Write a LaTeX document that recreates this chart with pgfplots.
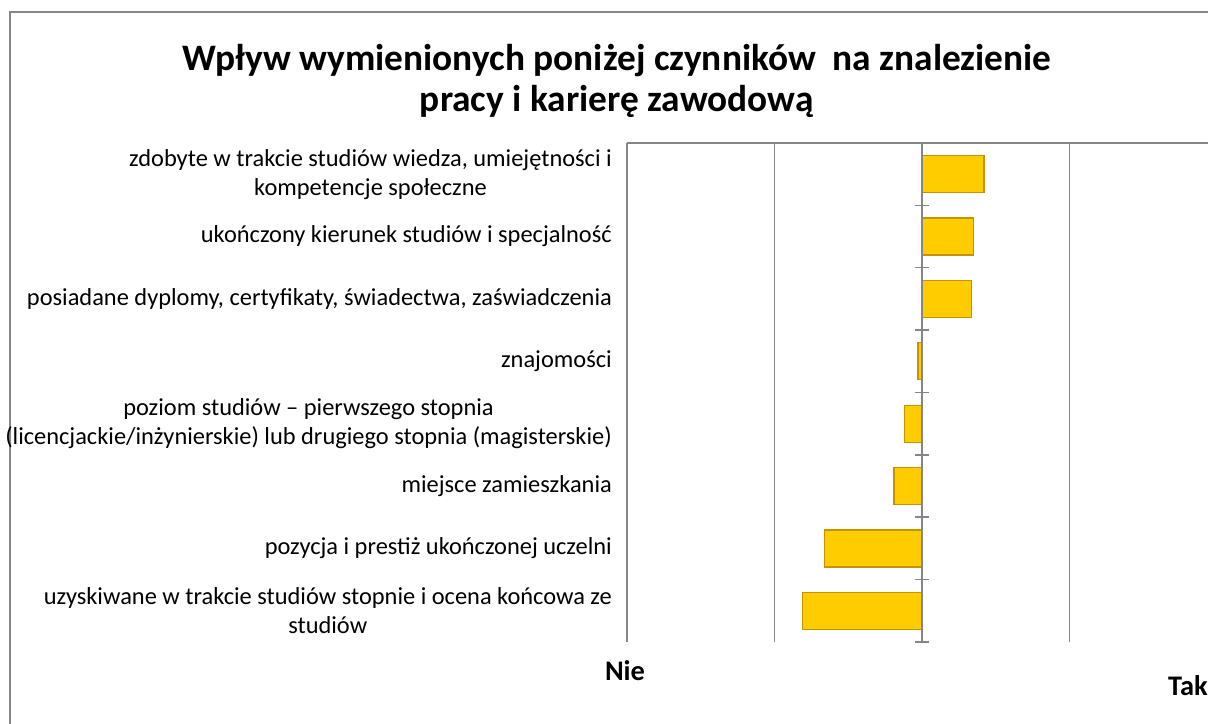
\documentclass[border=0pt]{standalone}
\usepackage{pgfplots}
\pgfplotsset{compat=1.18}
\usepackage{fontspec}
\setmainfont{Carlito}
\definecolor{barfill}{RGB}{255,204,0}
\definecolor{baredge}{RGB}{196,148,0}
\definecolor{gridc}{RGB}{134,134,134}
\begin{document}
\begin{tikzpicture}[x=1bp,y=1bp]
\useasboundingbox (0,0) rectangle (1208,724);
\fill[white] (0,0) rectangle (1208,724);
\draw[gridc, line width=1.5bp] (10,-5) -- (10,712) -- (1215,712);
\begin{axis}[
  at={(627bp,82bp)}, anchor=south west,
  width=581bp, height=499bp, scale only axis,
  xmin=-2, xmax=1.939, ymin=-0.5, ymax=7.5, y dir=reverse,
  xbar, bar width=37bp, bar shift=0pt,
  axis line style={draw=none},
  xtick={-2,-1,1}, xticklabels={}, xmajorgrids,
  grid style={gridc, line width=1.3bp},
  major tick length=0pt,
  ytick={0,...,7},
  yticklabels={{zdobyte w trakcie studiów wiedza, umiejętności i\\kompetencje społeczne},
    {ukończony kierunek studiów i specjalność},
    {posiadane dyplomy, certyfikaty, świadectwa, zaświadczenia},
    {znajomości},
    {poziom studiów – pierwszego stopnia\\(licencjackie/inżynierskie) lub drugiego stopnia (magisterskie)},
    {miejsce zamieszkania},
    {pozycja i prestiż ukończonej uczelni},
    {uzyskiwane w trakcie studiów stopnie i ocena końcowa ze\\studiów}},
  yticklabel style={align=center, font=\fontsize{24.5}{29}\selectfont, anchor=east, inner sep=0pt, xshift=-15bp},
  clip=false,
]
\addplot[fill=barfill, draw=baredge, line width=1.2bp] coordinates {(0.42,0) (0.35,1) (0.335,2) (-0.027,3) (-0.12,4) (-0.19,5) (-0.66,6) (-0.81,7)};
\draw[gridc, line width=1.3bp] (axis cs:-2,-0.5) -- (axis cs:1.939,-0.5);
\draw[gridc, line width=1.5bp] (axis cs:0,-0.5) -- (axis cs:0,7.5);
\draw[gridc, line width=1.5bp] (axis cs:-0.05,-0.5) -- (axis cs:0.05,-0.5);
\draw[gridc, line width=1.5bp] (axis cs:-0.05,0.5) -- (axis cs:0.05,0.5);
\draw[gridc, line width=1.5bp] (axis cs:-0.05,1.5) -- (axis cs:0.05,1.5);
\draw[gridc, line width=1.5bp] (axis cs:-0.05,2.5) -- (axis cs:0.05,2.5);
\draw[gridc, line width=1.5bp] (axis cs:-0.05,3.5) -- (axis cs:0.05,3.5);
\draw[gridc, line width=1.5bp] (axis cs:-0.05,4.5) -- (axis cs:0.05,4.5);
\draw[gridc, line width=1.5bp] (axis cs:-0.05,5.5) -- (axis cs:0.05,5.5);
\draw[gridc, line width=1.5bp] (axis cs:-0.05,6.5) -- (axis cs:0.05,6.5);
\draw[gridc, line width=1.5bp] (axis cs:-0.05,7.5) -- (axis cs:0.05,7.5);
\end{axis}
\node[align=center, font=\bfseries\fontsize{37.5}{41}\selectfont] at (617,643) {Wpływ wymienionych poniżej czynników\ \ na znalezienie\\pracy i karierę zawodową};
\node[font=\bfseries\fontsize{28.5}{32}\selectfont] at (625,53) {Nie};
\node[font=\bfseries\fontsize{28.5}{32}\selectfont] at (1188,38) {Tak};
\end{tikzpicture}
\end{document}
